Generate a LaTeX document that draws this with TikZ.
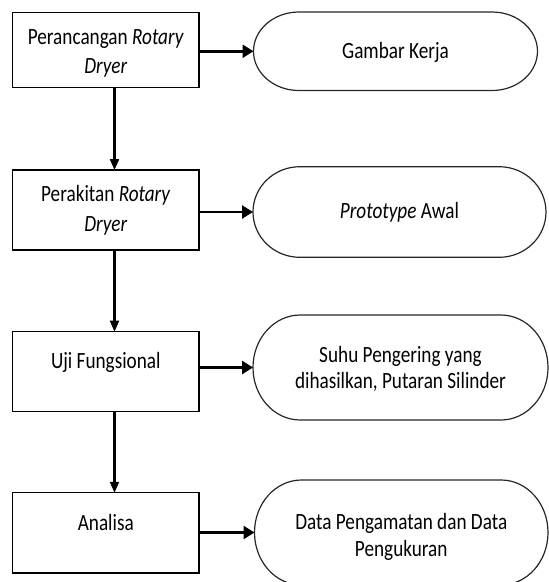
\documentclass[tikz,border=0pt]{standalone}
\usepackage{fontspec}
\setmainfont{Carlito}[FakeStretch=0.825]
\usetikzlibrary{arrows.meta,calc}
\newcommand\txt[2]{\raisebox{#1}[0pt][0pt]{\begin{tabular}[t]{@{}c@{}}#2\end{tabular}}}
\newcommand\termshape[1]{\path[termline] let \p1=(#1.north west),\p2=(#1.south east),\n1={0.16*(\x2-\x1)},\n2={(\y1-\y2)/2} in (\x1+\n1,\y1) -- (\x2-\n1,\y1) arc[start angle=90,end angle=-90,x radius=\n1,y radius=\n2] -- (\x1+\n1,\y2) arc[start angle=270,end angle=90,x radius=\n1,y radius=\n2] -- cycle;}
\tikzset{
 procbox/.style={draw=black,line width=1.3pt,minimum width=186.4pt,inner sep=0pt,outer sep=0pt,font=\fontsize{23.3}{29.7}\selectfont},
 termnode/.style={inner sep=0pt,outer sep=0pt,font=\fontsize{23.3}{26.8}\selectfont},
 termline/.style={draw=black!85,line width=1.2pt},
 harrow/.style={line width=2.6pt,-{Triangle[length=11pt,width=13pt]}},
 varrow/.style={line width=2.1pt,-{Triangle[length=11pt,width=9pt]}}
}
\begin{document}
\begin{tikzpicture}[x=1pt,y=1pt]
\useasboundingbox (0,0) rectangle (549,-582);
% process boxes
\node[procbox,minimum height=75.1pt] (b1) at (105.8,-49.75) {\txt{5.5pt}{Perancangan \textit{Rotary}\\\textit{Dryer}}};
\node[procbox,minimum height=80pt] (b2) at (105.8,-210) {\txt{8.3pt}{Perakitan \textit{Rotary}\\\textit{Dryer}}};
\node[procbox,minimum height=80pt] (b3) at (105.8,-371.7) {\txt{3.4pt}{Uji Fungsional}};
\node[procbox,minimum height=80.3pt] (b4) at (105.8,-532.9) {\txt{2.7pt}{Analisa}};
% terminals
\node[termnode,minimum width=284pt,minimum height=78.5pt] (t1) at (395.5,-51.25) {\txt{-7pt}{Gambar Kerja}};
\node[termnode,minimum width=293pt,minimum height=90.6pt] (t2) at (399.5,-212) {\txt{-6.5pt}{\textit{Prototype} Awal}};
\node[termnode,minimum width=295pt,minimum height=105pt] (t3) at (400.5,-367.5) {\txt{5.5pt}{Suhu Pengering yang\\dihasilkan, Putaran Silinder}};
\node[termnode,minimum width=293.5pt,minimum height=105pt] (t4) at (401.25,-532.5) {\txt{3pt}{Data Pengamatan dan Data\\Pengukuran}};
\termshape{t1}
\termshape{t2}
\termshape{t3}
\termshape{t4}
% horizontal arrows
\draw[harrow] (t1.west -| b1.east) -- (t1.west);
\draw[harrow] (t2.west -| b2.east) -- (t2.west);
\draw[harrow] (t3.west -| b3.east) -- (t3.west);
\draw[harrow] (t4.west -| b4.east) -- (t4.west);
% vertical arrows
\draw[varrow] ([xshift=8.7pt]b1.south) -- ([xshift=8.7pt]b2.north);
\draw[varrow] ([xshift=8.7pt]b2.south) -- ([xshift=8.7pt]b3.north);
\draw[varrow] ([xshift=8.7pt]b3.south) -- ([xshift=8.7pt]b4.north);
\end{tikzpicture}
\end{document}
